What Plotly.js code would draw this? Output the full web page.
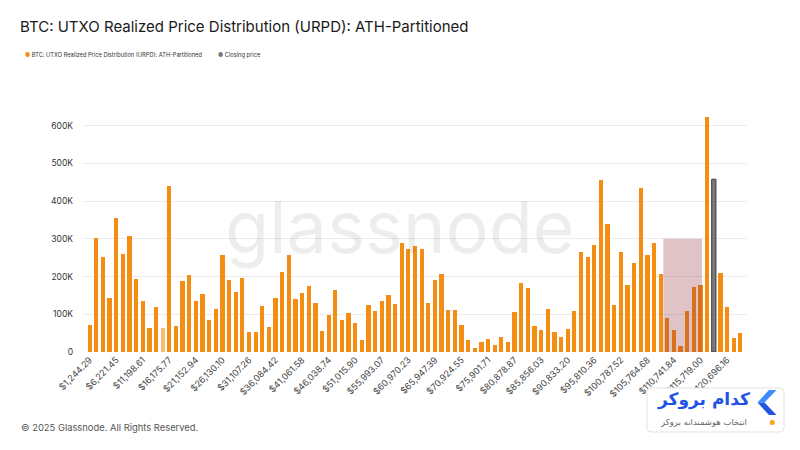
<!DOCTYPE html>
<html>
<head>
<meta charset="utf-8">
<script src="https://cdn.plot.ly/plotly-3.0.1.min.js"></script>
<style>
  html, body { margin: 0; padding: 0; background: #fff; }
  #chart { width: 800px; height: 450px; }
</style>
</head>
<body>
<div id="chart"></div>
<script>
// ---- Data ----
const titleText = 'BTC: UTXO Realized Price Distribution (URPD): ATH-Partitioned';
const seriesName = 'BTC: UTXO Realized Price Distribution (URPD): ATH-Partitioned';
const closingName = 'Closing price';
const binWidth = 1244.29; // price bucket size (ATH / 100)

// Supply per price bucket, in thousands of BTC (bucket 1 .. 99)
const urpdK = [
  72, 302, 252, 142, 354, 259, 307, 193, 134, 63,
  118, 63, 440, 70, 188, 203, 136, 153, 84, 113,
  257, 190, 158, 195, 52, 53, 123, 66, 142, 213,
  257, 140, 156, 175, 130, 57, 99, 164, 85, 104,
  78, 33, 125, 109, 134, 152, 126, 290, 274, 280,
  273, 130, 191, 208, 111, 111, 72, 33, 10, 26,
  34, 19, 39, 26, 106, 182, 170, 70, 59, 115,
  53, 40, 62, 110, 266, 253, 283, 456, 339, 124,
  264, 177, 235, 435, 256, 288, 208, 91, 59, 16,
  108, 171, 178, 624, null, 210, 120, 37, 50
];
const closingBucket = 95;        // bucket holding the closing price
const closingSupplyK = [458];     // thousands
const zoneRange = [108750, 116000]; // highlighted price zone
const zoneTopK = 300;

const xTickLabels = [
  '$1,244.29', '$6,221.45', '$11,198.61', '$16,175.77', '$21,152.94',
  '$26,130.10', '$31,107.26', '$36,084.42', '$41,061.58', '$46,038.74',
  '$51,015.90', '$55,993.07', '$60,970.23', '$65,947.39', '$70,924.55',
  '$75,901.71', '$80,878.87', '$85,856.03', '$90,833.20', '$95,810.36',
  '$100,787.52', '$105,764.68', '$110,741.84', '$115,719.00', '$120,696.16'
];
const yTickValsK = [0, 100, 200, 300, 400, 500, 600];
const yTickLabels = ['0', '100K', '200K', '300K', '400K', '500K', '600K'];
const fadedBucket = 12;

// ---- Build ----
const bins = urpdK.map((_, i) => (i + 1) * binWidth);
const xTickVals = xTickLabels.map(s => parseFloat(s.replace(/[$,]/g, '')));
const ORANGE = '#f68d13';

// plot-area geometry (px) for placing overlay items in paper coords
const PL = 83, PR = 747, PT = 103, PB = 352;
const px = x => (x - PL) / (PR - PL);
const py = y => (PB - y) / (PB - PT);

const traceMain = {
  type: 'bar',
  name: seriesName,
  x: bins,
  y: urpdK.map(v => v === null ? null : v * 1000),
  width: binWidth * 0.64,
  marker: {
    color: ORANGE,
    opacity: urpdK.map((_, i) => (i + 1) === fadedBucket ? 0.6 : 1),
    line: { width: 0 }
  },
  showlegend: false,
  hoverinfo: 'x+y'
};

const traceClose = {
  type: 'bar',
  name: closingName,
  x: [closingBucket * binWidth],
  y: closingSupplyK.map(v => v * 1000),
  width: binWidth * 0.64,
  marker: { color: 'rgba(100,100,100,0.85)', line: { color: '#3a3a3a', width: 1 } },
  showlegend: false
};

function roundRect(x0, y0, x1, y1, r) {
  const X0 = px(x0), X1 = px(x1), Y0 = py(y0), Y1 = py(y1);
  const rx = r / (PR - PL), ry = r / (PB - PT);
  return `M ${X0 + rx},${Y0} L ${X1 - rx},${Y0} Q ${X1},${Y0} ${X1},${Y0 - ry} ` +
         `L ${X1},${Y1 + ry} Q ${X1},${Y1} ${X1 - rx},${Y1} L ${X0 + rx},${Y1} ` +
         `Q ${X0},${Y1} ${X0},${Y1 + ry} L ${X0},${Y0 - ry} Q ${X0},${Y0} ${X0 + rx},${Y0} Z`;
}
function poly(pts) {
  return 'M ' + pts.map(p => `${px(p[0])},${py(p[1])}`).join(' L ') + ' Z';
}

const layout = {
  width: 800,
  height: 450,
  paper_bgcolor: '#ffffff',
  plot_bgcolor: '#ffffff',
  font: { family: 'Inter, "Noto Sans", sans-serif', color: '#333' },
  margin: { l: PL, r: 800 - PR, t: PT, b: 450 - PB, pad: 0 },
  title: {
    text: titleText,
    x: 20 / 800, xanchor: 'left', xref: 'container',
    y: 1 - 27 / 450, yanchor: 'middle', yref: 'container',
    font: { size: 15, color: '#1a1a1a', family: 'Inter, sans-serif' }
  },
  barmode: 'overlay',
  bargap: 0,
  showlegend: false,
  xaxis: {
    range: [0, 100 * binWidth],
    tickmode: 'array',
    tickvals: xTickVals,
    ticktext: xTickLabels,
    tickangle: -45,
    tickfont: { size: 9, color: '#444' },
    showgrid: false,
    zeroline: false,
    showline: false,
    ticks: '',
    fixedrange: true
  },
  yaxis: {
    range: [0, 660000],
    tickmode: 'array',
    tickvals: yTickValsK.map(v => v * 1000),
    ticktext: yTickLabels,
    tickfont: { size: 8.5, color: '#333' },
    showgrid: true,
    gridcolor: '#ececec',
    gridwidth: 1,
    zeroline: false,
    showline: false,
    ticks: '',
    ticklabelstandoff: 9
  },
  shapes: [
    {
      type: 'rect', xref: 'x', yref: 'y',
      x0: zoneRange[0], x1: zoneRange[1], y0: 0, y1: zoneTopK * 1000,
      fillcolor: 'rgba(145,40,55,0.28)', line: { width: 0 }, layer: 'above'
    },
    // broker badge box
    {
      type: 'path', xref: 'paper', yref: 'paper', layer: 'above',
      path: roundRect(647, 388, 784, 432, 4),
      fillcolor: '#ffffff', line: { color: '#e3e3e3', width: 1 }
    },
    {
      type: 'path', xref: 'paper', yref: 'paper', layer: 'above',
      path: poly([[769, 390], [776.5, 390], [764.5, 402.5], [757.5, 402.5]]),
      fillcolor: '#3d8bff', line: { width: 0 }
    },
    {
      type: 'path', xref: 'paper', yref: 'paper', layer: 'above',
      path: poly([[757.5, 402.5], [764.5, 402.5], [776.5, 415], [769, 415]]),
      fillcolor: '#1f55e0', line: { width: 0 }
    },
    {
      type: 'circle', xref: 'paper', yref: 'paper', layer: 'above',
      x0: px(769.8), x1: px(774.8), y0: py(420), y1: py(425),
      fillcolor: '#f7a21b', line: { width: 0 }
    }
  ],
  annotations: [
    // watermark
    {
      xref: 'paper', yref: 'paper', x: px(400), y: py(226),
      text: 'glassnode', showarrow: false,
      font: { size: 72, color: 'rgba(0,0,0,0.07)', family: 'Inter, sans-serif', weight: 400 },
      xanchor: 'center', yanchor: 'middle'
    },
    // legend
    {
      xref: 'paper', yref: 'paper', x: px(22.5), y: py(54.5),
      xanchor: 'left', yanchor: 'middle', showarrow: false,
      text: '<span style="color:' + ORANGE + '">●</span> ' + seriesName,
      font: { size: 5.7, color: '#333', family: 'Inter, sans-serif' }
    },
    {
      xref: 'paper', yref: 'paper', x: px(215.5), y: py(54.5),
      xanchor: 'left', yanchor: 'middle', showarrow: false,
      text: '<span style="color:#777">●</span> ' + closingName,
      font: { size: 5.7, color: '#333', family: 'Inter, sans-serif' }
    },
    // copyright
    {
      xref: 'paper', yref: 'paper', x: px(19), y: py(427),
      xanchor: 'left', yanchor: 'middle', showarrow: false,
      text: '© 2025 Glassnode. All Rights Reserved.',
      font: { size: 9.4, color: '#555', family: 'Inter, sans-serif' }
    },
    // broker badge text
    {
      xref: 'paper', yref: 'paper', x: px(703.5), y: py(399),
      xanchor: 'center', yanchor: 'middle', showarrow: false,
      text: '<b>کدام بروکر</b>',
      font: { size: 17, color: '#1f52e6', family: '"DejaVu Sans", "Noto Sans", sans-serif' }
    },
    {
      xref: 'paper', yref: 'paper', x: px(703), y: py(421.5),
      xanchor: 'center', yanchor: 'middle', showarrow: false,
      text: 'انتخاب هوشمندانه بروکر',
      font: { size: 8.5, color: '#666', family: '"DejaVu Sans", "Noto Sans", sans-serif' }
    }
  ]
};

Plotly.newPlot('chart', [traceMain, traceClose], layout, { displayModeBar: false, staticPlot: true });
</script>
</body>
</html>
